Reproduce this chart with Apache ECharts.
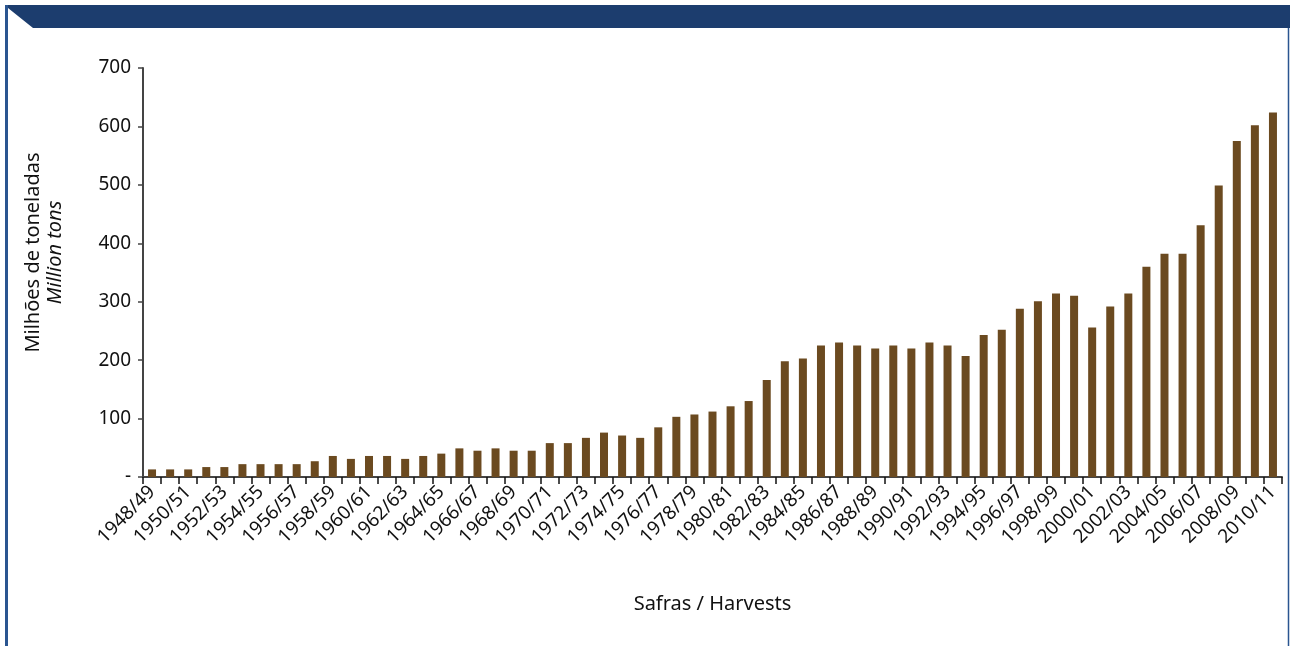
<!DOCTYPE html>
<html>
<head>
<meta charset="utf-8">
<script src="https://cdn.jsdelivr.net/npm/echarts@6/dist/echarts.min.js"></script>
<style>
  html, body { margin: 0; padding: 0; background: #fff; }
  #chart { width: 1290px; height: 646px; }
</style>
</head>
<body>
<div id="chart"></div>
<script>
// safras 1948/49 .. 2010/11
var safras = [];
for (var y = 1948; y <= 2010; y++) {
    safras.push(y + '/' + String((y + 1) % 100).padStart(2, '0'));
}
// milhões de toneladas
var producao = [
    13, 13, 13, 17, 17, 22, 22, 22, 22, 27,
    36, 31, 36, 36, 31, 36, 40, 49, 45, 49,
    45, 45, 58, 58, 67, 76, 71, 67, 85, 103,
    107, 112, 121, 130, 166, 198, 203, 225, 230, 225,
    220, 225, 220, 230, 225, 207, 243, 252, 288, 301,
    314, 310, 256, 292, 314, 360, 382, 382, 431, 499,
    575, 602, 624
];
var yTicks = [0, 100, 200, 300, 400, 500, 600, 700];

var barColor = '#6b4a20';
var navy = '#1c3d6e';
var font = 'Noto Sans';

var option = {
    animation: false,
    textStyle: { fontFamily: font },
    graphic: [
        {
            type: 'polygon',
            shape: { points: [[5, 5], [1290, 5], [1290, 28], [33, 28], [8, 8], [5, 8]] },
            style: { fill: navy }
        },
        {
            type: 'line',
            shape: { x1: 6.5, y1: 5, x2: 6.5, y2: 646 },
            style: { stroke: '#2a5590', lineWidth: 3 }
        },
        {
            type: 'line',
            shape: { x1: 1288.5, y1: 28, x2: 1288.5, y2: 646 },
            style: { stroke: '#2a5590', lineWidth: 1.5 }
        }
    ],
    grid: { left: 143, right: 8, top: 68, bottom: 169 },
    xAxis: {
        type: 'category',
        data: safras,
        name: 'Safras / Harvests',
        nameLocation: 'middle',
        nameGap: 117,
        nameTextStyle: { color: '#111', fontSize: 20, fontFamily: font },
        axisLine: { lineStyle: { color: '#444', width: 2 } },
        axisTick: { show: true, interval: 0, length: 7, lineStyle: { color: '#111', width: 1.5 } },
        axisLabel: {
            interval: 1,
            rotate: 45,
            color: '#111',
            fontSize: 19,
            fontFamily: font,
            margin: 12
        },
        splitLine: { show: false }
    },
    yAxis: {
        type: 'value',
        min: 0,
        max: 700,
        interval: 100,
        name: '{a|Milhões de toneladas}\n{b|Million tons}',
        nameLocation: 'middle',
        nameRotate: 90,
        nameGap: 77,
        nameTextStyle: {
            padding: [0, 0, 0, 40],
            rich: {
                a: { fontSize: 20, color: '#111', fontFamily: font, lineHeight: 22 },
                b: { fontSize: 20, color: '#111', fontFamily: font, fontStyle: 'italic', lineHeight: 22 }
            }
        },
        axisLine: { show: true, lineStyle: { color: '#444', width: 2 } },
        axisTick: { show: true, length: 5, lineStyle: { color: '#444', width: 1.5 } },
        axisLabel: {
            color: '#111',
            fontSize: 19,
            fontFamily: font,
            margin: 12,
            formatter: function (v) {
                return yTicks.indexOf(v) === 0 ? '-' : String(v);
            }
        },
        splitLine: { show: false }
    },
    series: [{
        type: 'bar',
        data: producao,
        barWidth: 8,
        itemStyle: { color: barColor }
    }]
};

var chart = echarts.init(document.getElementById('chart'));
chart.setOption(option);
window.onresize = function () { chart.resize(); };
</script>
</body>
</html>
